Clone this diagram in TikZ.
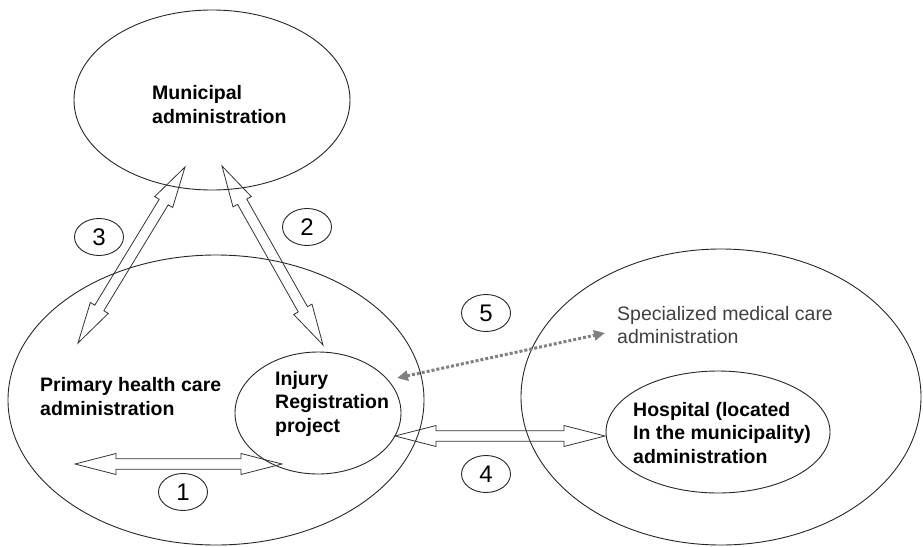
\documentclass[tikz,border=0pt]{standalone}
\usepackage{fontspec}
\setmainfont{Liberation Sans}
\usetikzlibrary{shapes.geometric,calc,arrows.meta}

\tikzset{
  region/.style={draw=black!85, line width=0.9pt, ellipse, inner sep=0pt},
  numlabel/.style={draw=black!85, line width=0.9pt, ellipse, minimum width=49pt,
    minimum height=37pt, inner sep=0pt, font=\fontsize{24}{26}\selectfont},
  boldlabel/.style={font=\bfseries\fontsize{19.5}{23.5}\selectfont, align=left,
    inner sep=0pt, anchor=base west},
  plainlabel/.style={font=\fontsize{19.5}{23}\selectfont, align=left,
    inner sep=0pt, anchor=base west, text=black!75},
  hollow/.style={draw=black!80, line width=0.8pt},
  dotlink/.style={draw=black!50, line width=3pt, dash pattern=on 3pt off 2pt,
    {Triangle[length=11pt,width=10pt]}-{Triangle[length=11pt,width=10pt]}}
}

\newcommand\hollowarrow[2]{%
  \coordinate (hc) at ($(#1)!41pt!(#2)$);
  \coordinate (hd) at ($(#2)!41pt!(#1)$);
  \draw[hollow] (#1)
    -- ($(hc)!10.5pt!-90:(#2)$) -- ($(hc)!5.3pt!-90:(#2)$)
    -- ($(hd)!5.3pt!90:(#1)$) -- ($(hd)!10.5pt!90:(#1)$)
    -- (#2)
    -- ($(hd)!10.5pt!-90:(#1)$) -- ($(hd)!5.3pt!-90:(#1)$)
    -- ($(hc)!5.3pt!90:(#2)$) -- ($(hc)!10.5pt!90:(#2)$)
    -- cycle;}

\begin{document}
\begin{tikzpicture}[x=1pt,y=-1pt]
\useasboundingbox (0,0) rectangle (923,546);

% regions
\node[region, minimum width=276pt, minimum height=180pt] (muni) at (212,100) {};
\node[region, minimum width=416pt, minimum height=290pt] (phc) at (216,400) {};
\node[region, minimum width=166pt, minimum height=122pt] (irp) at (318,413) {};
\node[region, minimum width=400pt, minimum height=296pt] (smc) at (721,397) {};
\node[region, minimum width=224pt, minimum height=122pt] (hosp) at (718,432) {};

% texts (anchor = baseline of the last line)
\node[boldlabel] (tmuni) at (152,123) {Municipal\\administration};
\node[boldlabel] (tphc) at (40,415) {Primary health care\\administration};
\node[boldlabel] (tirp) at (275,432) {Injury\\Registration\\project};
\node[boldlabel] (thosp) at (633,463) {Hospital (located\\In the municipality)\\administration};
\node[plainlabel] (tsmc) at (617,343) {Specialized medical care\\administration};

% number labels
\node[numlabel] (n1) at (183,492) {1};
\node[numlabel] (n2) at (307,227) {2};
\node[numlabel] (n3) at (99,237) {3};
\node[numlabel] (n4) at (486,474) {4};
\node[numlabel] (n5) at (486,313) {5};

% arrow end points
\coordinate (a1L) at (75,464);
\coordinate (a1R) at (282,464);
\coordinate (a2T) at (222,166);
\coordinate (a2B) at (323,345);
\coordinate (a3T) at (185,167);
\coordinate (a3B) at (78,343);
\coordinate (a4L) at (395,436);
\coordinate (a4R) at (605,436);
\coordinate (a5L) at (397,378);
\coordinate (a5R) at (605,333);

\hollowarrow{a1L}{a1R}
\hollowarrow{a2T}{a2B}
\hollowarrow{a3T}{a3B}
\hollowarrow{a4L}{a4R}
\draw[dotlink] (a5L) -- (a5R);
\end{tikzpicture}
\end{document}
